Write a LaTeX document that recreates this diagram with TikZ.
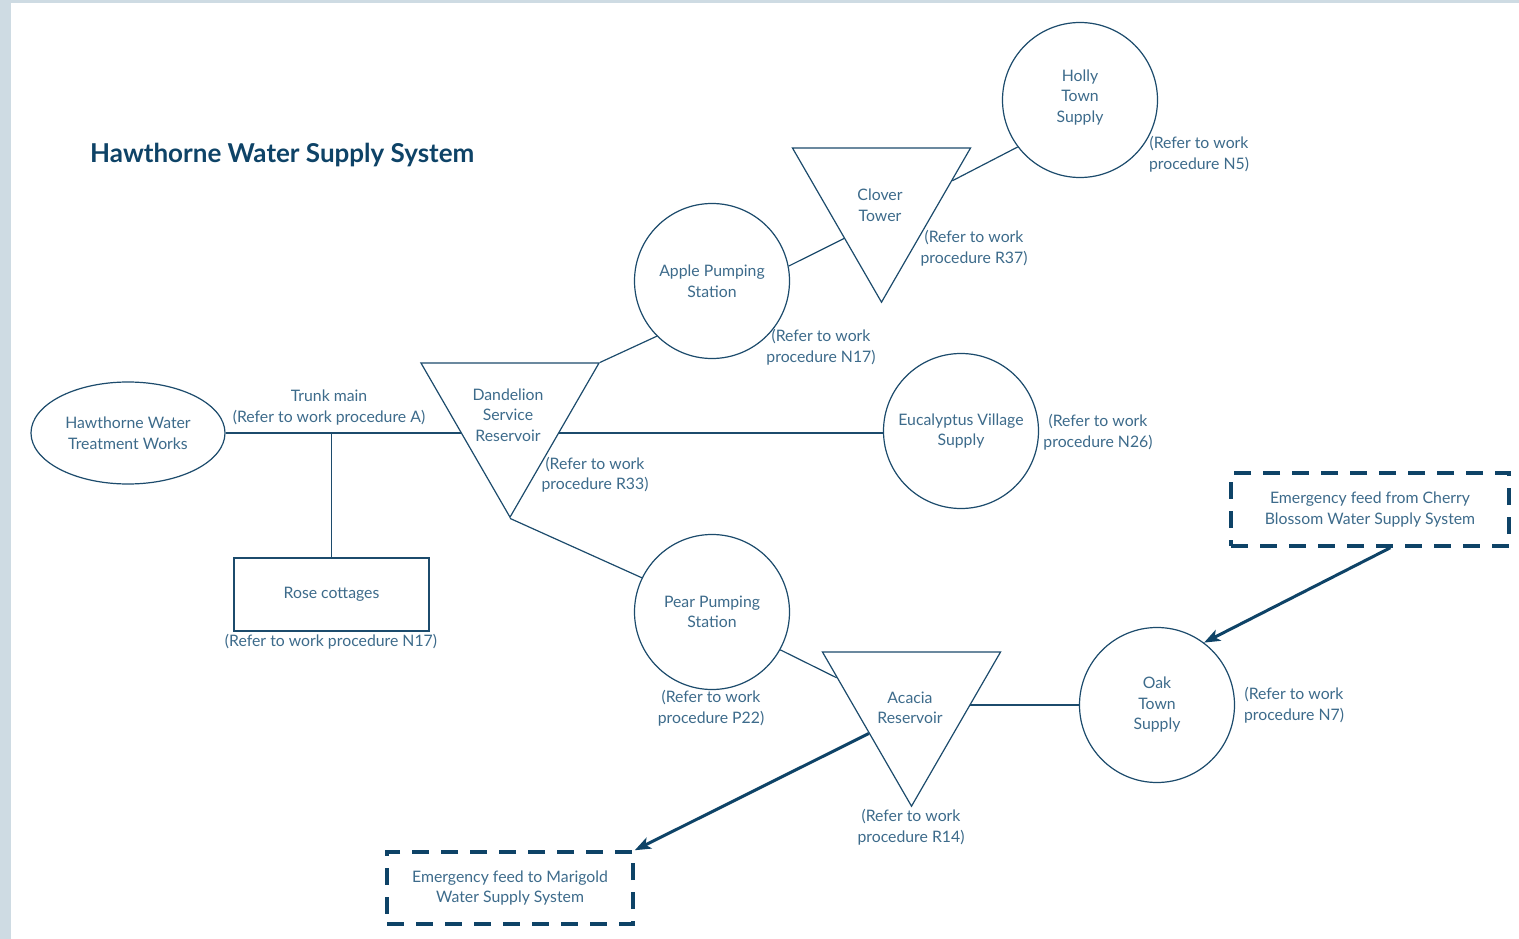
\documentclass[tikz,border=0pt]{standalone}
\usepackage{fontspec}
\setmainfont{Lato}
\usetikzlibrary{shapes.geometric,arrows.meta,calc}
\definecolor{bgstrip}{HTML}{CEDBE3}
\definecolor{linec}{HTML}{1C4B6C}
\definecolor{txtc}{HTML}{3D6B8B}
\definecolor{darkc}{HTML}{0E4367}
\pgfdeclarelayer{back}
\pgfdeclarelayer{bg}
\pgfsetlayers{back,bg,main}
\begin{document}
\begin{tikzpicture}[x=1pt,y=-1pt,
  every node/.style={font=\fontsize{15.8}{20.5}\selectfont, text=txtc, align=center},
  conn/.style={draw=linec, line width=1.2pt},
  circ/.style={circle, draw=linec, line width=1.2pt, fill=white, minimum size=155pt, inner sep=0pt},
  tri/.style={regular polygon, regular polygon sides=3, shape border rotate=180, draw=linec, line width=1.2pt, fill=white, minimum size=205.6pt, inner sep=0pt},
  ebox/.style={draw=darkc, line width=3.5pt, dash pattern=on 17pt off 12pt, inner sep=0pt},
  feed/.style={draw=darkc, line width=3pt, -{Stealth[length=16pt,width=12pt,inset=4pt]}},
  note/.style={inner sep=0pt}
]
\begin{pgfonlayer}{back}
\fill[bgstrip] (0,0) rectangle (1519,939);
\fill[white] (11,3) rectangle (1519,939);
\end{pgfonlayer}
\useasboundingbox (0,0) rectangle (1519,939);

\node[font=\fontsize{26}{30}\selectfont\bfseries, text=darkc, anchor=base west, inner sep=0pt] (title) at (90,163) {Hawthorne Water Supply System};

\node[ellipse, draw=linec, line width=1.2pt, fill=white, minimum width=194pt, minimum height=102pt, inner sep=0pt] (htw) at (128,433) {Hawthorne Water\\Treatment Works};

\node[tri] (dand) at (510,414.4) {};
\node[note] (dandtxt) at (508,415) {Dandelion\\Service\\Reservoir};
\node[circ] (apple) at (712,281) {Apple Pumping\\Station};
\node[tri] (clover) at (881.5,199.4) {};
\node[note] (clovertxt) at (880,205) {Clover\\Tower};
\node[circ] (holly) at (1080,100) {};
\node[note] (hollytxt) at (1080,97.5) {Holly\\Town\\Supply};
\node[circ] (euc) at (961,431) {Eucalyptus Village\\Supply};
\node[circ] (pear) at (712,612) {Pear Pumping\\Station};
\node[tri] (acacia) at (911.5,703.4) {};
\node[note] (acaciatxt) at (910,708) {Acacia\\Reservoir};
\node[circ] (oak) at (1157,705) {Oak\\Town\\Supply};
\node[draw=linec, line width=1.2pt, minimum width=195pt, minimum height=73pt, inner sep=0pt] (rose) at (331.5,594.5) {Rose cottages};
\node[ebox, minimum width=278pt, minimum height=73pt] (cherry) at (1370,509.5) {Emergency feed from Cherry\\Blossom Water Supply System};
\node[ebox, minimum width=246pt, minimum height=72pt] (marigold) at (510,888) {Emergency feed to Marigold\\Water Supply System};

\node[note] (lA) at (329,407.5) {Trunk main\\(Refer to work procedure A)};
\node[note] (lN17r) at (331,642) {(Refer to work procedure N17)};
\node[note] (lR33) at (595,474.5) {(Refer to work\\procedure R33)};
\node[note] (lN17a) at (821,347) {(Refer to work\\procedure N17)};
\node[note] (lR37) at (974,248) {(Refer to work\\procedure R37)};
\node[note] (lN5) at (1199,154) {(Refer to work\\procedure N5)};
\node[note] (lN26) at (1098,432) {(Refer to work\\procedure N26)};
\node[note] (lP22) at (711,708) {(Refer to work\\procedure P22)};
\node[note] (lR14) at (911,827) {(Refer to work\\procedure R14)};
\node[note] (lN7) at (1294,705) {(Refer to work\\procedure N7)};

\begin{pgfonlayer}{bg}
\draw[conn] (htw.east) -- (htw.east -| euc.west);
\draw[conn] (rose.north) -- (rose.north |- htw.east);
\draw[conn] (dand.corner 2) -- (apple.225);
\draw[conn] (apple.11) -- ($(clover.corner 3)!0.584!(clover.corner 1)$);
\draw[conn] ($(clover.corner 2)!0.214!(clover.corner 1)$) -- (holly.217.7);
\draw[conn] (dand.corner 1) -- (pear.154);
\draw[conn] (pear.-29) -- ($(acacia.corner 3)!0.169!(acacia.corner 1)$);
\draw[conn] (oak.west) -- (oak.west -| acacia.center);
\end{pgfonlayer}

\draw[feed] (cherry.-62.5) -- (oak.53);
\draw[feed] ($(acacia.corner 3)!0.526!(acacia.corner 1)$) -- (marigold.north east);
\end{tikzpicture}
\end{document}
